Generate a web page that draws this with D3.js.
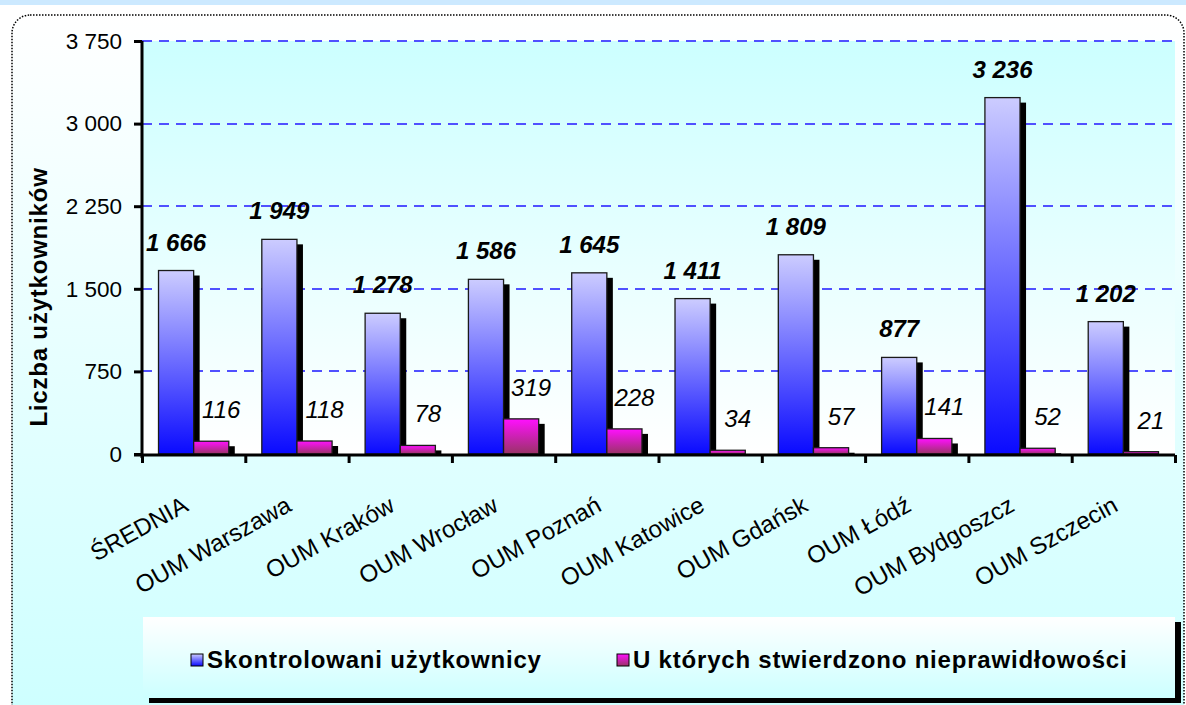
<!DOCTYPE html>
<html>
<head>
<meta charset="utf-8">
<script src="https://cdn.jsdelivr.net/npm/d3@7"></script>
<style>
  body { margin: 0; background: #fff; }
  svg { display: block; font-family: Arial, "Liberation Sans", sans-serif; }
</style>
</head>
<body>
<svg id="chart" width="1186" height="705"></svg>
<script>
const categories = ["ŚREDNIA", "OUM Warszawa", "OUM Kraków", "OUM Wrocław", "OUM Poznań",
    "OUM Katowice", "OUM Gdańsk", "OUM Łódź", "OUM Bydgoszcz", "OUM Szczecin"];
const controlled = [1666, 1949, 1278, 1586, 1645, 1411, 1809, 877, 3236, 1202];
const irregular = [116, 118, 78, 319, 228, 34, 57, 141, 52, 21];
const seriesNames = ["Skontrolowani użytkownicy", "U których stwierdzono nieprawidłowości"];
const yTicks = [0, 750, 1500, 2250, 3000, 3750];

const svg = d3.select("#chart");
const W = 1186, H = 705;
const plot = { left: 142, right: 1175, top: 41, bottom: 454 };

const pl = d3.formatLocale({ decimal: ",", thousands: " ", grouping: [3], currency: ["", ""] });
const fmt = pl.format(",d");

const defs = svg.append("defs");
function vgrad(id, top, bottom) {
    const g = defs.append("linearGradient").attr("id", id)
        .attr("x1", 0).attr("y1", 0).attr("x2", 0).attr("y2", 1);
    g.append("stop").attr("offset", "0%").attr("stop-color", top);
    g.append("stop").attr("offset", "100%").attr("stop-color", bottom);
}
vgrad("chartGrad", "#ffffff", "#ccffff");
vgrad("plotGrad", "#ccffff", "#ffffff");
vgrad("legendGrad", "#ffffff", "#ccffff");
vgrad("blueGrad", "#ccccff", "#0a0aff");
vgrad("magGrad", "#ff10ff", "#993366");

// top title strip
svg.append("rect").attr("x", 0).attr("y", 0).attr("width", W).attr("height", 5).attr("fill", "#cce9ff");

// chart area
svg.append("rect")
    .attr("x", 12).attr("y", 15).attr("width", 1172).attr("height", 720)
    .attr("rx", 18).attr("ry", 18)
    .attr("fill", "url(#chartGrad)")
    .attr("stroke", "#000").attr("stroke-width", 1.5).attr("stroke-dasharray", "1.5,1.5");

// plot area
svg.append("rect")
    .attr("x", plot.left).attr("y", plot.top)
    .attr("width", plot.right - plot.left).attr("height", plot.bottom - plot.top)
    .attr("fill", "url(#plotGrad)");

const x = d3.scaleBand().domain(categories).range([plot.left, plot.right]).padding(0);
const xs = d3.scaleBand().domain([0, 1]).range([0, x.bandwidth()]).paddingInner(0).paddingOuter(0.47);
const y = d3.scaleLinear().domain([0, 3750]).range([plot.bottom, plot.top]);

// gridlines
svg.append("g").selectAll("line")
    .data(yTicks.filter(d => d > 0))
    .join("line")
    .attr("x1", plot.left).attr("x2", plot.right)
    .attr("y1", d => Math.round(y(d))).attr("y2", d => Math.round(y(d)))
    .attr("stroke", "#5050ff").attr("stroke-width", 2)
    .attr("shape-rendering", "crispEdges")
    .attr("stroke-dasharray", "10,7");

const data = categories.map((c, i) => ({ c, vals: [controlled[i], irregular[i]] }));
const fills = ["url(#blueGrad)", "url(#magGrad)"];

const groups = svg.append("g").selectAll("g")
    .data(data).join("g")
    .attr("transform", d => `translate(${x(d.c)},0)`);

// shadows
groups.selectAll("rect.shadow")
    .data(d => d.vals.map((v, s) => ({ v, s })))
    .join("rect").attr("class", "shadow")
    .attr("x", d => xs(d.s) + 6)
    .attr("y", d => Math.min(y(d.v) + 5, plot.bottom))
    .attr("width", xs.bandwidth())
    .attr("height", d => Math.max(0, plot.bottom - y(d.v) - 5))
    .attr("fill", "#000");

// bars
groups.selectAll("rect.bar")
    .data(d => d.vals.map((v, s) => ({ v, s })))
    .join("rect").attr("class", "bar")
    .attr("x", d => xs(d.s))
    .attr("y", d => y(d.v))
    .attr("width", xs.bandwidth())
    .attr("height", d => plot.bottom - y(d.v))
    .attr("fill", d => fills[d.s])
    .attr("stroke", "#1a1a1a").attr("stroke-width", 1.3);

// value labels
groups.append("text")
    .attr("x", d => xs(0) + xs.bandwidth() / 2)
    .attr("y", d => y(d.vals[0]) - 20)
    .attr("text-anchor", "middle")
    .attr("font-size", 24).attr("font-weight", "bold").attr("font-style", "italic")
    .text(d => fmt(d.vals[0]));

groups.append("text")
    .attr("x", d => xs(1) + xs.bandwidth() / 2 + 10)
    .attr("y", d => y(d.vals[1]) - 23)
    .attr("text-anchor", "middle")
    .attr("font-size", 24).attr("font-style", "italic")
    .text(d => fmt(d.vals[1]));

// y axis
const yAxis = svg.append("g")
    .attr("transform", `translate(${plot.left},0)`)
    .call(d3.axisLeft(y).tickValues(yTicks).tickFormat(fmt).tickSize(8).tickPadding(12));
yAxis.select(".domain").attr("stroke-width", 3).attr("d", `M0,${plot.top}V${plot.bottom + 4}`);
yAxis.selectAll(".tick line").attr("stroke-width", 3);
yAxis.selectAll(".tick text").attr("font-size", 22.5).attr("fill", "#000")
    .attr("font-family", "Arial, 'Liberation Sans', sans-serif");

// x axis: boundary ticks
const xb = d3.scaleLinear().domain([0, categories.length]).range([plot.left, plot.right]);
const xAxis = svg.append("g")
    .attr("transform", `translate(0,${plot.bottom + 1})`)
    .call(d3.axisBottom(xb).ticks(categories.length).tickFormat("").tickSize(8).tickSizeOuter(8));
xAxis.select(".domain").attr("stroke-width", 3).attr("d", `M${plot.left - 8},0H${plot.right}`);
xAxis.selectAll(".tick line").attr("stroke-width", 3);

// category labels
svg.append("g").selectAll("text")
    .data(categories).join("text")
    .attr("transform", d => `translate(${x(d) + x.bandwidth() / 2 - 4},510) rotate(-29)`)
    .attr("text-anchor", "end")
    .attr("font-size", 24)
    .text(d => d);

// y title
svg.append("text")
    .attr("transform", `translate(47,297) rotate(-90)`)
    .attr("text-anchor", "middle")
    .attr("font-size", 24).attr("font-weight", "bold").attr("letter-spacing", 0.8)
    .text("Liczba użytkowników");

// legend
const lg = { x: 143, y: 617, w: 1032, h: 81 };
svg.append("rect").attr("x", lg.x + 6).attr("y", lg.y + 5).attr("width", lg.w).attr("height", lg.h).attr("fill", "#000");
svg.append("rect").attr("x", lg.x).attr("y", lg.y).attr("width", lg.w).attr("height", lg.h).attr("fill", "url(#legendGrad)");

const legendX = [191, 617];
const items = svg.append("g").selectAll("g")
    .data(seriesNames).join("g")
    .attr("transform", (d, i) => `translate(${legendX[i]},654)`);
items.append("rect").attr("width", 12).attr("height", 12)
    .attr("fill", (d, i) => fills[i]).attr("stroke", "#000").attr("stroke-width", 1);
items.append("text").attr("x", 16).attr("y", 14)
    .attr("font-size", 24).attr("font-weight", "bold").attr("letter-spacing", 0.8)
    .text(d => d);
</script>
</body>
</html>
